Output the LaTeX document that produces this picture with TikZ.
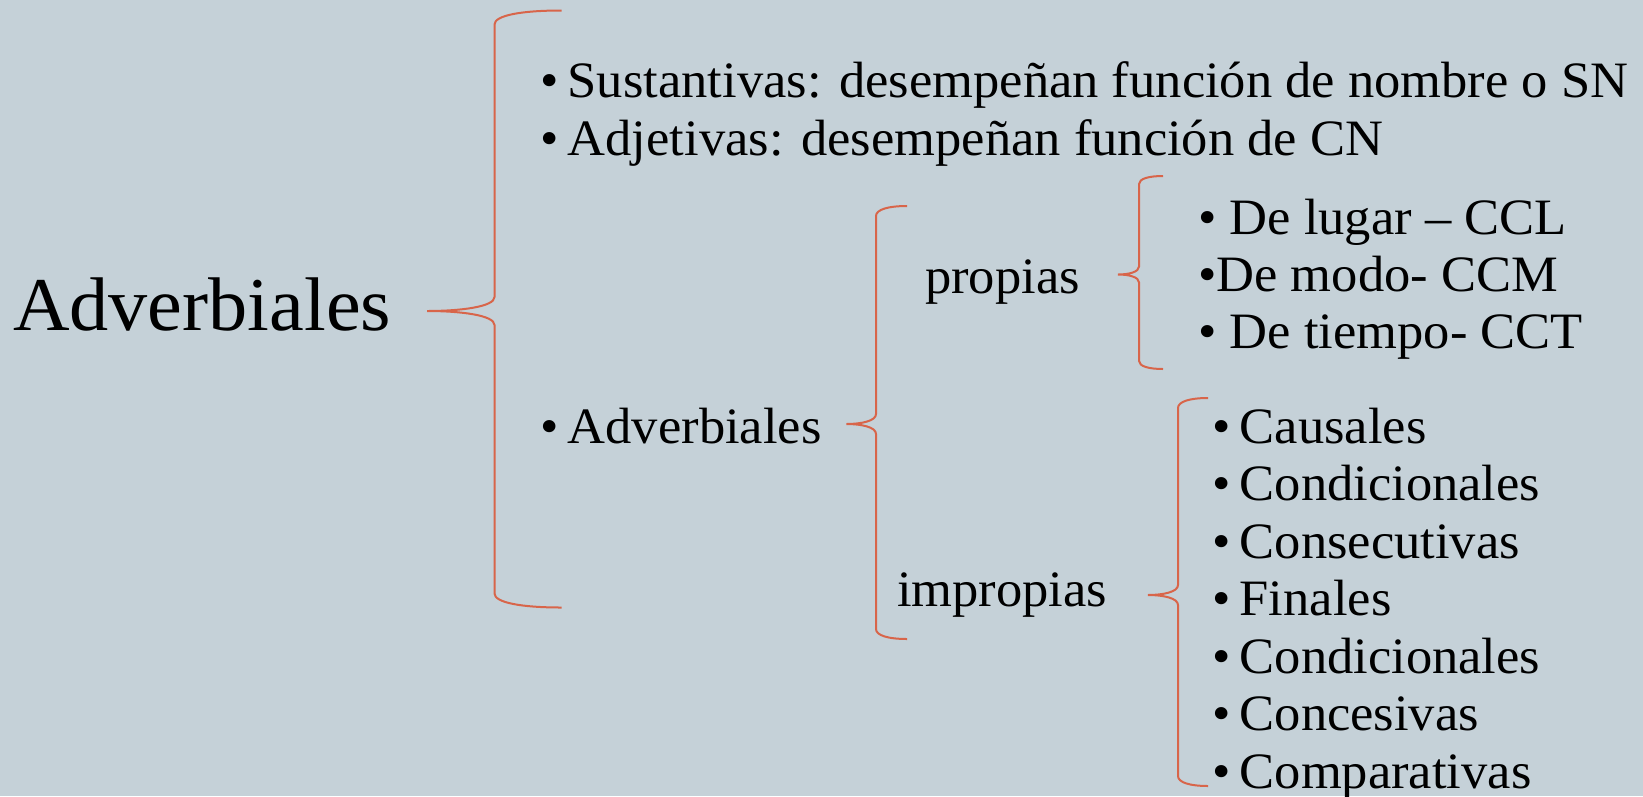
\documentclass[tikz,border=0pt]{standalone}
\usepackage{fontspec}
\setmainfont{Liberation Serif}[FakeStretch=1.03]
\definecolor{bgc}{HTML}{C5D1D8}
\definecolor{brc}{HTML}{D8654A}
\newcommand\curlybr[7]{%
\pgfmathsetmacro\brA{#2-0.6*(#2-#1)}%
\pgfmathsetmacro\brB{#3+0.35*#7}%
\pgfmathsetmacro\brC{#3+#7}%
\pgfmathsetmacro\brD{#5-#7}%
\pgfmathsetmacro\brE{#5-0.3*#7}%
\pgfmathsetmacro\brF{#1-0.5*(#1-#4)}%
\pgfmathsetmacro\brG{#5+0.3*#7}%
\pgfmathsetmacro\brH{#5+#7}%
\pgfmathsetmacro\brI{#6-#7}%
\pgfmathsetmacro\brJ{#6-0.35*#7}%
\draw[bracestyle] (#2,#3) .. controls (\brA,#3) and (#1,\brB) .. (#1,\brC) -- (#1,\brD) .. controls (#1,\brE) and (\brF,#5) .. (#4,#5) .. controls (\brF,#5) and (#1,\brG) .. (#1,\brH) -- (#1,\brI) .. controls (#1,\brJ) and (\brA,#6) .. (#2,#6);}
\tikzset{
  bracestyle/.style={draw=brc, line width=2pt},
  txt/.style={inner sep=0pt, anchor=base west, font=\fontsize{51}{51}\selectfont},
  big/.style={inner sep=0pt, anchor=base west, font=\fontsize{76}{76}\selectfont}
}
\begin{document}
\begin{tikzpicture}[x=1pt,y=-1pt]
\fill[bgc] (0,0) rectangle (1643,796);
\useasboundingbox (0,0) rectangle (1643,796);
% main title
\node[big] (title) at (13,330) {Adverbiales};
% first level
\node[txt] (sust) at (540,97) {•\hspace{0.18em}Sustantivas: desempeñan función de nombre o SN};
\node[txt] (adje) at (540,155) {•\hspace{0.18em}Adjetivas: desempeñan función de CN};
\node[txt] (adve) at (540,443) {•\hspace{0.18em}Adverbiales};
% second level
\node[txt] (prop) at (925,293) {propias};
\node[txt] (impr) at (897,606) {impropias};
% propias items
\node[txt] (p1) at (1198,234) {• De lugar – CCL};
\node[txt] (p2) at (1198,291) {•De modo- CCM};
\node[txt] (p3) at (1198,348) {• De tiempo- CCT};
% impropias items
\node[txt] (i1) at (1212,443) {•\hspace{0.18em}Causales};
\node[txt] (i2) at (1212,500.5) {•\hspace{0.18em}Condicionales};
\node[txt] (i3) at (1212,558) {•\hspace{0.18em}Consecutivas};
\node[txt] (i4) at (1212,615.5) {•\hspace{0.18em}Finales};
\node[txt] (i5) at (1212,673) {•\hspace{0.18em}Condicionales};
\node[txt] (i6) at (1212,730.5) {•\hspace{0.18em}Concesivas};
\node[txt] (i7) at (1212,788) {•\hspace{0.18em}Comparativas};
% braces
\curlybr{494.5}{561.5}{10.5}{427}{311}{607.5}{14}
\curlybr{876}{907}{206}{846.5}{424}{639}{10}
\curlybr{1139}{1163}{176}{1118}{274.5}{369}{8}
\curlybr{1178}{1208}{398}{1148}{595}{786}{10}
\end{tikzpicture}
\end{document}
